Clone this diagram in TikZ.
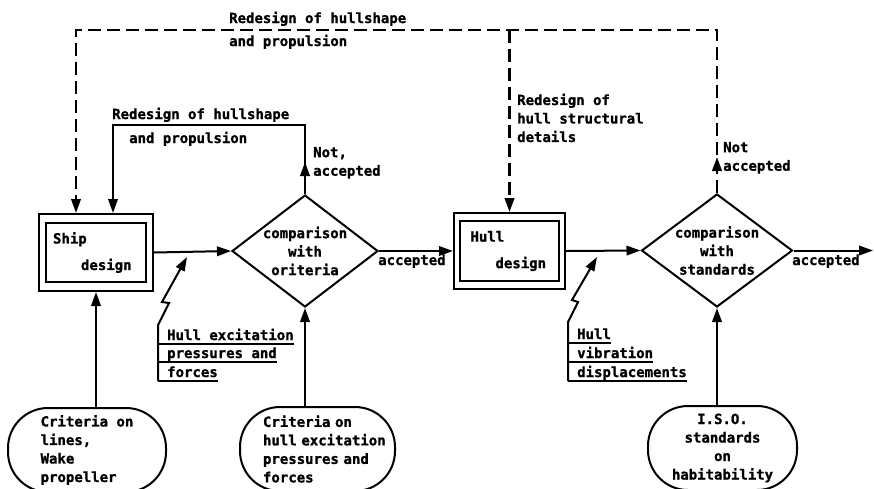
\documentclass[tikz,border=0pt]{standalone}
\usepackage{fontspec}
\setmonofont{DejaVu Sans Mono}[BoldFeatures={FakeBold=1.2}]
\usetikzlibrary{arrows.meta, shapes.geometric, calc, decorations.markings}
\begin{document}
\begin{tikzpicture}[x=1pt, y=-1pt,
  every node/.style={font=\ttfamily\bfseries\fontsize{14}{18.5}\selectfont},
  heavy/.style={line width=2pt},
  tip/.style={-{Triangle[length=14pt,width=9.5pt]}},
  loopdash/.style={line width=2.4pt, dash pattern=on 13pt off 6pt},
  midtip/.style={postaction={decorate, decoration={markings,
      mark=at position #1 with {\arrow{Triangle[length=14pt,width=9.5pt]}}}}},
  txt/.style={inner sep=0pt},
  frame/.style={draw, heavy, rectangle, inner sep=4pt,
    path picture={\draw[heavy]
      ($(path picture bounding box.north west)+(#1)$) rectangle
      ($(path picture bounding box.south east)-(#1)$);}},
  decision/.style={draw, heavy, diamond, inner sep=0pt},
  oval/.style={draw, heavy, rectangle, rounded corners=40pt, inner sep=0pt,
    minimum height=84pt, align=left}
]
\useasboundingbox (0,0) rectangle (874,488);
\clip (0,0) rectangle (874,488);

% main chain
\node[frame={7,9}, minimum width=114pt, minimum height=77pt,
      text width=86pt, align=left] (ship) at (96,252.5)
      {Ship\\[8pt]\hspace*{28pt}design};
\node[decision, minimum width=146pt, minimum height=112pt,
      label={[align=center]center:{comparison\\with\\oriteria}}] (d1) at (305,251) {};
\node[frame={6,8}, minimum width=111pt, minimum height=76pt,
      text width=78pt, align=left] (hull) at (509.5,251)
      {Hull\\[8pt]\hspace*{25pt}design};
\node[decision, minimum width=151pt, minimum height=113pt,
      label={[align=center]center:{comparison\\with\\standards}}] (d2) at (717,250.5) {};
\coordinate (out) at (873,250.5);

% criteria sources
\node[oval, minimum width=158pt] (ovL) at (87,450)
      {Criteria on\\lines,\\Wake\\propeller};
\node[oval, minimum width=155pt, text width=109pt] (ovM) at (317.5,449)
      {Criteria~on\\hull~excitation\\pressures~and\\forces};
\node[oval, minimum width=149pt, align=center] (ovR) at (722.5,448)
      {I.S.O.\\standards\\on\\habitability};

\draw[heavy, tip] (ship.east) -- (d1.west);
\draw[heavy, tip] (d1.east) -- (hull.west);
\draw[heavy, tip] (hull.east) -- (d2.west);
\draw[heavy, tip] (d2.east) -- (out);
\draw[heavy, tip] (ovL.north -| ship.south) -- (ship.south);
\draw[heavy, tip] (ovM.north -| d1.south) -- (d1.south);
\draw[heavy, tip] (ovR.north -| d2.south) -- (d2.south);

\node[txt, anchor=base west] (acc1) at (378,265) {accepted};
\node[txt, anchor=base west] (acc2) at (792,265) {accepted};

% inner redesign loop
\coordinate (innerL) at (113,125);
\draw[heavy, tip, midtip=32pt] (d1.north) |- (innerL) -- (innerL |- ship.north);
\node[txt, anchor=base west] (inA) at (112,119) {Redesign of hullshape};
\node[txt, anchor=base west] (inB) at (129,143) {and propulsion};
\node[txt, anchor=north west, align=left] (na1) at (313,146.8) {Not,\\accepted};

% outer redesign loop
\coordinate (outerL) at (76,30);
\draw[loopdash, tip, midtip=36pt] (d2.north) |- (outerL) -- (outerL |- ship.north);
\draw[loopdash, tip] (hull.north |- outerL) -- (hull.north);
\node[txt, anchor=base west] (topA) at (229,23) {Redesign of hullshape};
\node[txt, anchor=base west] (topB) at (229,46) {and propulsion};
\node[txt, anchor=north west, align=left] (hullR) at (517,93.4)
      {Redesign of\\hull structural\\details};
\node[txt, anchor=north west, align=left] (na2) at (723,141.8) {Not\\accepted};

% excitation input
\coordinate (tipA) at (187,257);
\node[txt, anchor=base west] (exc1) at (167,340) {Hull excitation};
\node[txt, anchor=base west] (exc2) at (167,358) {pressures and};
\node[txt, anchor=base west] (exc3) at (167,377) {forces};
\foreach \n in {exc1,exc2,exc3}
  \draw[heavy] ($(\n.base west)+(-9,4)$) -- ($(\n.base east)+(0,4)$);
\draw[heavy, tip] ($(exc3.base west)+(-9,4)$) -- ++(0,-56) -- ++(11,-22)
      -- ++(-7,-1) -- (tipA);

% vibration input
\coordinate (tipB) at (597,257);
\node[txt, anchor=base west] (vib1) at (577,339) {Hull};
\node[txt, anchor=base west] (vib2) at (577,358) {vibration};
\node[txt, anchor=base west] (vib3) at (577,377) {displacements};
\foreach \n in {vib1,vib2,vib3}
  \draw[heavy] ($(\n.base west)+(-9,4)$) -- ($(\n.base east)+(0,4)$);
\draw[heavy, tip] ($(vib3.base west)+(-9,4)$) -- ++(0,-59) -- ++(10,-20)
      -- ++(-6,-2) -- (tipB);
\end{tikzpicture}
\end{document}
